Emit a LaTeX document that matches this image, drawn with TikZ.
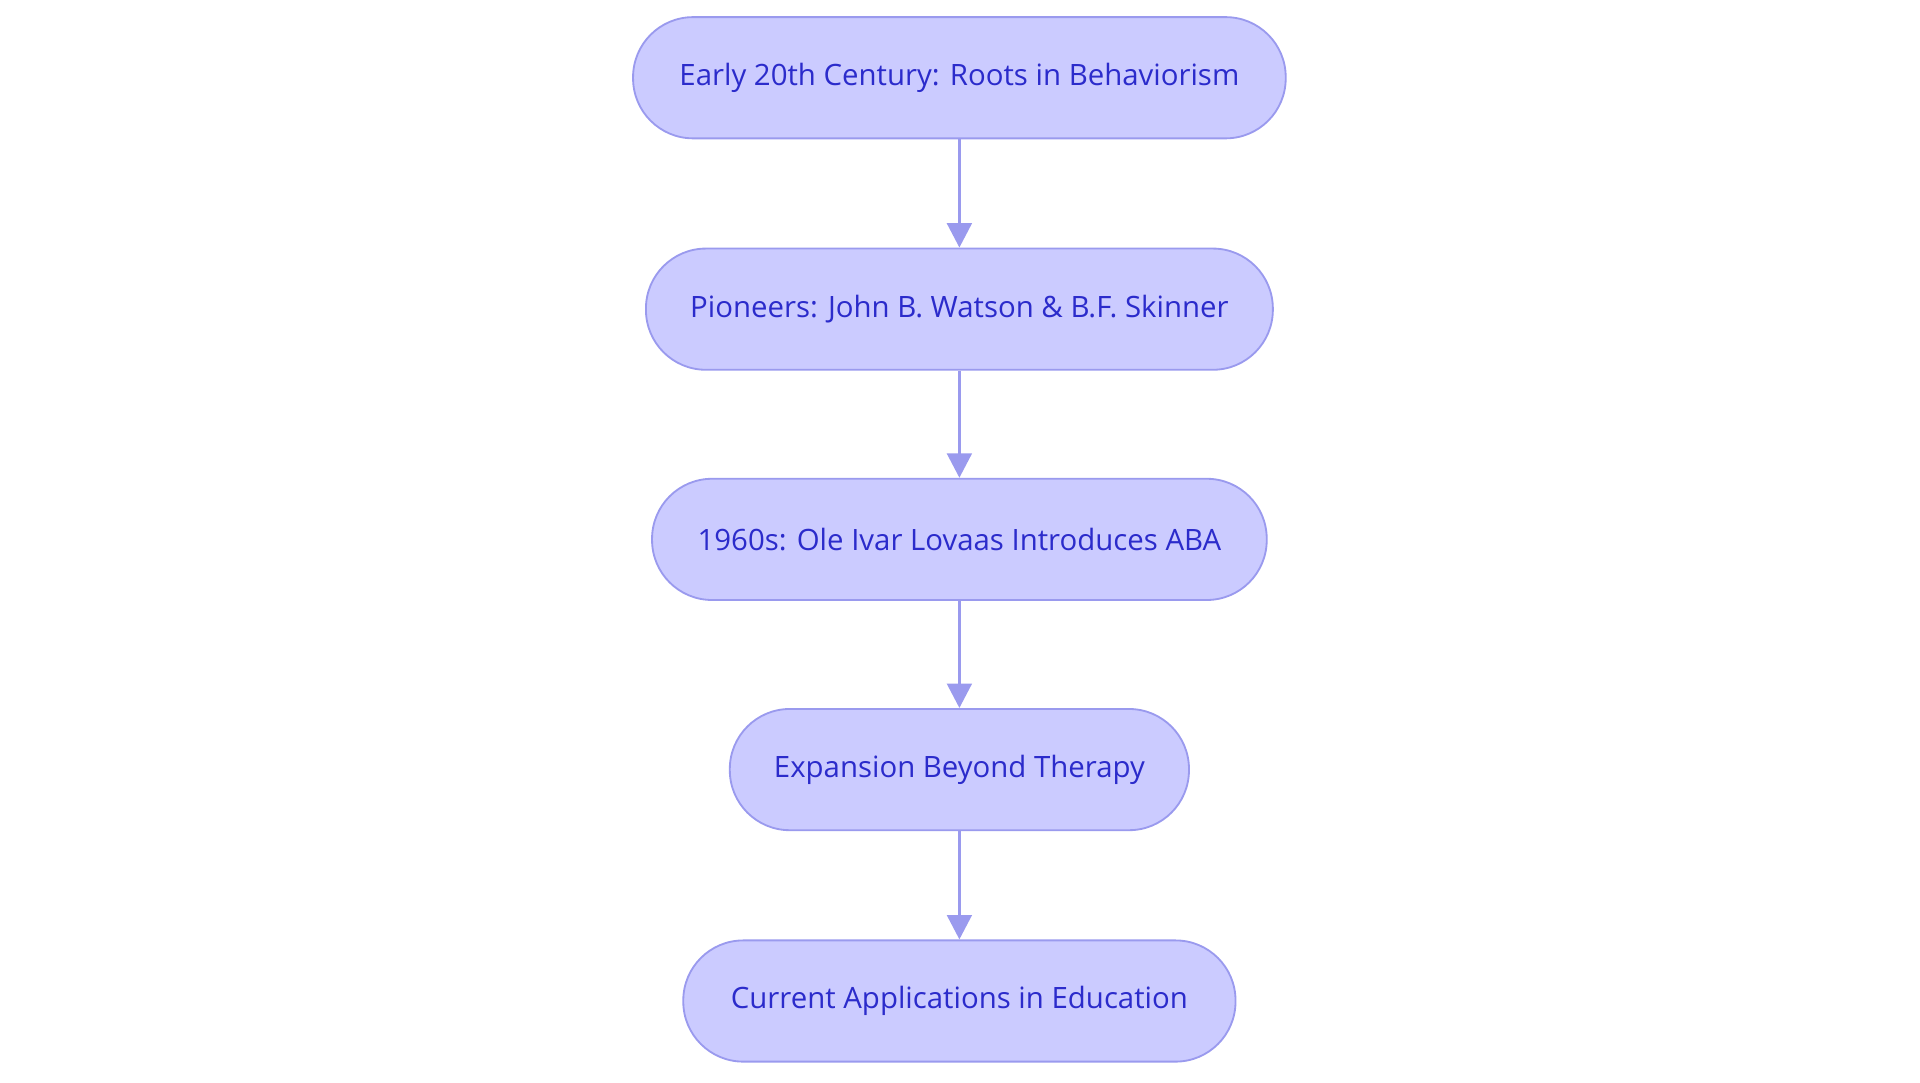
\documentclass[tikz,border=0pt]{standalone}
\usepackage{fontspec}
\setmainfont{Open Sans}
\usetikzlibrary{arrows.meta}
\definecolor{boxfill}{HTML}{CBCBFF}
\definecolor{boxline}{HTML}{9A9AEE}
\definecolor{boxtext}{HTML}{2B2BCB}
\tikzset{
  pill/.style={draw=boxline, line width=1.5pt, fill=boxfill, rounded corners=49pt,
    minimum height=99pt, text=boxtext, font=\fontsize{24}{28}\selectfont, inner sep=0pt},
  conn/.style={draw=boxline, line width=3pt, -{Triangle[length=20pt,width=20pt]}}
}
\begin{document}
\begin{tikzpicture}[x=1pt,y=1pt]
\useasboundingbox (0,0) rectangle (1568,884);
\node[pill, minimum width=533pt] (a) at (783.5,820.5) {Early 20th Century: Roots in Behaviorism};
\node[pill, minimum width=512pt] (b) at (783.5,631.5) {Pioneers: John B. Watson \& B.F. Skinner};
\node[pill, minimum width=502pt] (c) at (783.5,443.5) {1960s: Ole Ivar Lovaas Introduces ABA};
\node[pill, minimum width=375pt] (d) at (783.5,255.5) {Expansion Beyond Therapy};
\node[pill, minimum width=451pt] (e) at (783.5,66.5) {Current Applications in Education};
\draw[conn] (a) -- (b);
\draw[conn] (b) -- (c);
\draw[conn] (c) -- (d);
\draw[conn] (d) -- (e);
\end{tikzpicture}
\end{document}
